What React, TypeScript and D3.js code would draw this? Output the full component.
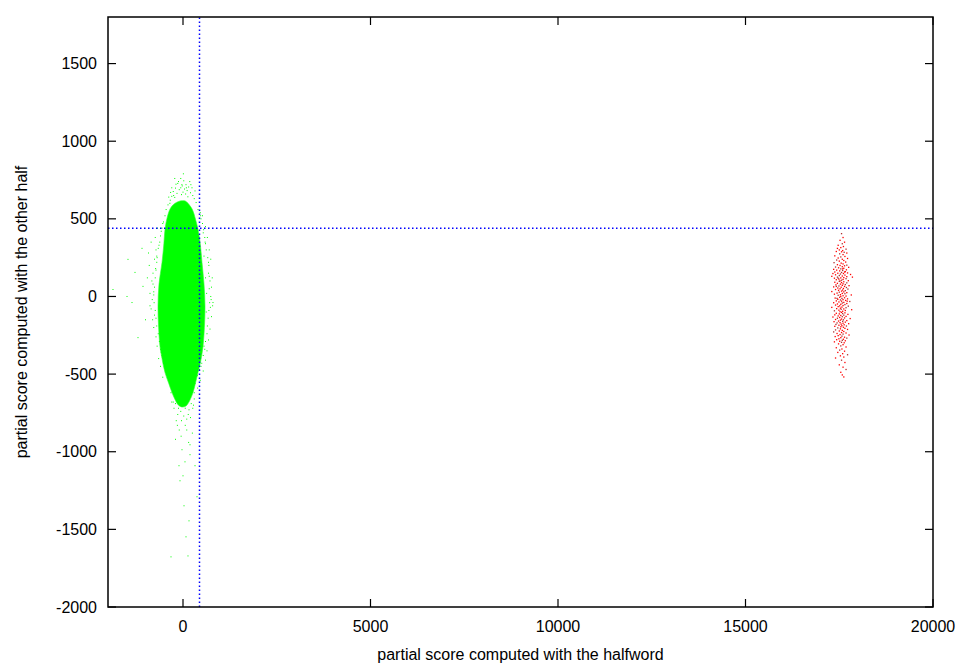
import React from "react";
import * as d3 from "d3";

const W = 965, H = 664;
const M = { left: 108, right: 32, top: 17, bottom: 57 };

const xTicks = [0, 5000, 10000, 15000, 20000];
const yTicks = [-2000, -1500, -1000, -500, 0, 500, 1000, 1500];
const xDomain = [-2000, 20000];
const yDomain = [-2000, 1800];
const thresholdX = 440;
const thresholdY = 440;

// dense (saturated) core of the green cloud, outline in data units
const greenCore: [number, number][] = [
  [-213, 600], [-80, 615], [60, 615], [133, 600], [250, 560], [330, 500], [400, 432], [460, 340],
  [507, 219], [560, 80], [587, -65], [570, -200], [533, -323], [470, -420], [400, -490], [330, -560],
  [267, -619], [180, -670], [80, -705], [-20, -712], [-120, -700], [-220, -660], [-293, -619],
  [-380, -560], [-480, -490], [-560, -400], [-613, -323], [-650, -200], [-667, -65], [-640, 80],
  [-560, 219], [-510, 340], [-480, 432], [-420, 510], [-330, 570],
];

// sparse green points around the core
const greenPoints: [number, number][] = [
  [-60, 760], [20, 745], [-140, 728], [80, 720], [-20, 712], [150, 705], [-200, 698], [40, 692], [-100, 688], [110, 682],
  [-260, 676], [0, 672], [200, 668], [-160, 664], [70, 660], [-40, 656], [260, 650], [-300, 645], [130, 642], [-220, 638],
  [300, 630], [-340, 620], [350, 605], [-400, 590], [400, 560], [-450, 560], [-187, 723],
  [-350, 600], [-250, 650], [-380, 640], [-300, 700], [-120, 740], [240, 700], [320, 680], [180, 740], [-60, 700], [90, 700],
  [-220, 760], [10, 790], [-30, 720], [210, 720], [-330, 670],
  [460, 540], [480, 500], [520, 470], [550, 430], [580, 380], [600, 340], [620, 300], [470, 520], [540, 410], [590, 350],
  [-480, 520], [-520, 480], [-560, 440], [-600, 390], [-620, 350], [-660, 310], [-700, 260], [-540, 470], [-640, 330], [-580, 420],
  [660, 250], [690, 200], [680, 150], [720, 100], [700, 50], [740, 0], [710, -40], [690, -90], [670, -140], [650, -190],
  [760, 60], [730, -70], [680, 220], [700, 130], [750, -20], [630, 20], [620, -100], [600, 120], [560, 260],
  [700, 300], [740, 240], [780, 120], [790, -60], [760, -130], [720, -210], [680, -280], [640, -350], [600, -410], [540, -480],
  [460, -540], [390, -590], [650, 380], [600, 450], [520, 520],
  [-700, 220], [-720, 170], [-740, 120], [-760, 60], [-780, 10], [-770, -40], [-740, -90], [-720, -140], [-700, -190],
  [-800, 80], [-820, -20], [-760, -120], [-730, 180], [-690, 250], [-780, 30],
  [-720, 300], [-760, 240], [-800, 150], [-830, 100], [-850, -80], [-810, -150], [-780, -200], [-720, -260], [-690, -320],
  [-650, -400], [-600, -450], [-540, -520], [-880, 20], [-740, 380], [-680, 440],
  [640, -240], [600, -290], [580, -340], [540, -380], [500, -430], [440, -470], [380, -510], [320, -560], [260, -590], [560, -320], [480, -450],
  [-660, -240], [-630, -290], [-600, -340], [-560, -380], [-520, -430], [-460, -470], [-400, -520], [-330, -560], [-260, -600], [-580, -360], [-480, -450],
  [-180, -640], [200, -640], [-100, -680], [120, -670], [0, -700], [-200, -690], [220, -690], [60, -720], [-60, -740], [160, -730],
  [-140, -760], [20, -770], [100, -790], [-40, -800], [200, -780], [-240, -720], [-300, -680], [300, -660], [260, -720],
  [-320, -620], [300, -620], [-260, -680], [280, -700], [-120, -720], [140, -760], [-180, -800], [60, -830], [-100, -860],
  [-150, -830], [100, -860], [-50, -900], [250, -880], [-200, -920], [150, -940],
  [187, -955], [-27, -987], [187, -1019], [53, -1065], [-107, -1090], [320, -1090], [0, -1155], [-80, -1187], [373, -1290],
  [27, -1348], [160, -1445], [80, -1548], [-320, -1677], [133, -1671],
  [-1093, 310], [-1467, 239], [-1280, 155], [-1067, 65], [-1493, 0], [-1867, 45], [-1360, -39], [-1200, -265], [800, -39],
  [-900, 200], [-950, 120], [-880, -60], [-1000, -150], [-850, 350], [-920, 280],
];

const redPoints: [number, number][] = [
  [17560, 405], [17600, 380], [17520, 362], [17640, 350], [17580, 340], [17470, 330], [17610, 322], [17540, 315], [17680, 305], [17500, 300],
  [17590, 296], [17450, 310], [17630, 285],
  [17420, 290], [17560, 288], [17700, 280], [17510, 275], [17600, 270], [17380, 262], [17650, 258], [17540, 255], [17470, 248], [17720, 245],
  [17580, 240], [17430, 235], [17620, 232], [17500, 228], [17670, 222], [17360, 218], [17550, 215], [17600, 210], [17450, 205], [17700, 202],
  [17520, 200], [17640, 198], [17580, 192], [17400, 190], [17750, 188],
  [17480, 185], [17620, 182], [17540, 178], [17350, 175], [17690, 172], [17430, 170], [17590, 168], [17510, 165], [17660, 160], [17380, 158],
  [17560, 155], [17720, 152], [17460, 150], [17610, 148], [17530, 145], [17800, 142], [17400, 140], [17650, 138], [17500, 135], [17580, 132],
  [17300, 130], [17700, 128], [17450, 125], [17620, 122], [17540, 120], [17370, 118], [17680, 115], [17490, 112], [17600, 110], [17420, 108],
  [17560, 105], [17740, 102], [17520, 100], [17640, 158], [17470, 118], [17590, 178], [17330, 148], [17850, 125],
  [17500, 98], [17620, 95], [17380, 92], [17560, 90], [17700, 88], [17450, 85], [17600, 82], [17530, 80], [17660, 77], [17410, 75],
  [17580, 72], [17760, 70], [17490, 68], [17640, 65], [17350, 62], [17550, 60], [17690, 58], [17460, 55], [17610, 52], [17520, 50],
  [17730, 48], [17400, 45], [17590, 42], [17480, 40], [17660, 38], [17560, 35], [17300, 32], [17620, 30], [17500, 28], [17700, 25],
  [17440, 22], [17580, 20], [17650, 18], [17370, 15], [17530, 12], [17820, 10], [17470, 8], [17600, 5], [17680, 3], [17540, 1], [17420, 65],
  [17510, -5], [17640, -8], [17390, -10], [17570, -12], [17720, -15], [17460, -18], [17600, -20], [17530, -22], [17670, -25], [17420, -28],
  [17560, -30], [17780, -32], [17490, -35], [17620, -38], [17350, -40], [17580, -42], [17700, -45], [17450, -48], [17540, -50], [17650, -52],
  [17400, -55], [17600, -58], [17510, -60], [17740, -62], [17470, -65], [17570, -68], [17300, -70], [17680, -72], [17530, -75], [17430, -78],
  [17620, -80], [17550, -82], [17830, -85], [17490, -88], [17660, -90], [17370, -92], [17590, -95], [17520, -98], [17710, -30], [17440, -12],
  [17560, -102], [17650, -105], [17420, -108], [17590, -110], [17500, -112], [17730, -115], [17380, -118], [17620, -120], [17540, -122], [17470, -125],
  [17680, -128], [17580, -130], [17330, -132], [17510, -135], [17640, -138], [17450, -140], [17790, -142], [17560, -145], [17400, -148], [17610, -150],
  [17530, -152], [17700, -155], [17480, -158], [17590, -160], [17360, -162], [17660, -165], [17520, -168], [17440, -170], [17600, -172], [17750, -175],
  [17550, -178], [17410, -180], [17630, -182], [17490, -185], [17570, -188], [17690, -190], [17380, -192], [17540, -195], [17610, -198],
  [17460, -202], [17650, -205], [17530, -208], [17720, -212], [17400, -215], [17580, -218], [17500, -222], [17620, -225], [17350, -228], [17560, -232],
  [17680, -235], [17440, -238], [17600, -242], [17520, -245], [17760, -248], [17470, -252], [17570, -255], [17390, -258], [17640, -262], [17540, -265],
  [17700, -268], [17490, -272], [17610, -275], [17430, -278], [17580, -282], [17660, -285], [17510, -288], [17370, -292], [17560, -295], [17630, -298],
  [17480, -305], [17600, -310], [17540, -318], [17680, -325], [17420, -330], [17570, -338], [17510, -345], [17640, -352], [17460, -360], [17590, -368],
  [17720, -375], [17530, -382], [17620, -390], [17400, -396],
  [17560, -410], [17650, -425], [17500, -440], [17600, -455], [17680, -470], [17540, -488], [17580, -505], [17620, -518],
];

export default function App() {
  const x = d3.scaleLinear().domain(xDomain).range([M.left, W - M.right]);
  const y = d3.scaleLinear().domain(yDomain).range([H - M.bottom, M.top]);
  const x0 = M.left, x1 = W - M.right, y0 = H - M.bottom, y1 = M.top;
  const font = "'Liberation Sans', Arial, Helvetica, sans-serif";
  const core = d3.line<[number, number]>().x(d => x(d[0])).y(d => y(d[1])).curve(d3.curveCatmullRomClosed)(greenCore) || "";
  const tl = 8;
  return (
    <svg width={W} height={H} style={{ position: "absolute", left: 0, top: 0, background: "#fff" }} fontFamily={font}>
      <rect x={0} y={0} width={W} height={H} fill="#fff" />
      <g>
        <path d={core} fill="#00ff00" stroke="#33ff33" strokeWidth={1} strokeOpacity={0.6} />
        {greenPoints.map((p, i) => (
          <rect key={"g" + i} x={x(p[0]) - 0.5} y={y(p[1]) - 0.5} width={1} height={1} fill="#00ff00" />
        ))}
        {redPoints.map((p, i) => (
          <rect key={"r" + i} x={x(p[0]) - 0.6} y={y(p[1]) - 0.6} width={1.3} height={1.3} fill={i % 4 === 0 ? "#b03030" : "#ff0000"} />
        ))}
      </g>
      <line x1={x(thresholdX)} x2={x(thresholdX)} y1={y0} y2={y1} stroke="#0000ff" strokeWidth={1.5} strokeDasharray="1.5,2.5" />
      <line x1={x0} x2={x1} y1={y(thresholdY)} y2={y(thresholdY)} stroke="#0000ff" strokeWidth={1.5} strokeDasharray="1.5,2.5" />
      {xTicks.map(t => (
        <g key={"xt" + t}>
          <line x1={x(t)} x2={x(t)} y1={y0} y2={y0 - tl} stroke="#000" strokeWidth={1.2} />
          <line x1={x(t)} x2={x(t)} y1={y1} y2={y1 + tl} stroke="#000" strokeWidth={1.2} />
          <text x={x(t)} y={y0 + 25} textAnchor="middle" fontSize={16} fill="#000">{t}</text>
        </g>
      ))}
      {yTicks.map(t => (
        <g key={"yt" + t}>
          <line x1={x0} x2={x0 + tl} y1={y(t)} y2={y(t)} stroke="#000" strokeWidth={1.2} />
          <line x1={x1} x2={x1 - tl} y1={y(t)} y2={y(t)} stroke="#000" strokeWidth={1.2} />
          <text x={x0 - 11} y={y(t)} dy="0.35em" textAnchor="end" fontSize={16} fill="#000">{t}</text>
        </g>
      ))}
      <rect x={x0} y={y1} width={x1 - x0} height={y0 - y1} fill="none" stroke="#000" strokeWidth={1.5} />
      <text x={(x0 + x1) / 2} y={H - 4} textAnchor="middle" fontSize={16} fill="#000">partial score computed with the halfword</text>
      <text transform={`translate(27,${(y0 + y1) / 2}) rotate(-90)`} textAnchor="middle" fontSize={16} fill="#000">partial score computed with the other half</text>
    </svg>
  );
}
